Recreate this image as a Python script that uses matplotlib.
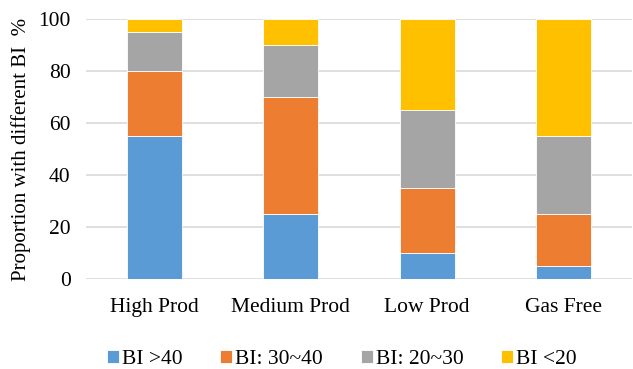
import matplotlib
matplotlib.use("Agg")
import matplotlib.pyplot as plt
import numpy as np

categories = ["High Prod", "Medium Prod", "Low Prod", "Gas Free"]
series_names = ["BI >40", "BI: 30~40", "BI: 20~30", "BI <20"]
bi_gt40 = [55, 25, 10, 5]
bi_30_40 = [25, 45, 25, 20]
bi_20_30 = [15, 20, 30, 30]
bi_lt20 = [5, 10, 35, 45]
yticks = [0, 20, 40, 60, 80, 100]
colors = ["#5B9BD5", "#ED7D31", "#A5A5A5", "#FFC000"]

plt.rcParams['font.family'] = ['Liberation Serif', 'DejaVu Serif']

fig = plt.figure(figsize=(6.33, 3.69), dpi=100)
ax = fig.add_axes([86/633, 1-279/369, 546/633, 260/369])

x = np.arange(len(categories))
bottom = np.zeros(len(categories))
for name, vals, c in zip(series_names, [bi_gt40, bi_30_40, bi_20_30, bi_lt20], colors):
    ax.bar(x, vals, 0.4, bottom=bottom, color=c, label=name, edgecolor="white", linewidth=0.6, zorder=3)
    bottom += np.array(vals)

ax.set_xlim(-0.5, len(categories) - 0.5)
ax.set_ylim(0, 100)
ax.set_yticks(yticks)
ax.set_yticklabels([str(t) for t in yticks], fontsize=15.5)
ax.set_xticks(x)
ax.set_xticklabels(categories, fontsize=15.5)
ax.tick_params(axis='y', length=0, pad=11)
ax.tick_params(axis='x', length=0, pad=14)
ax.grid(axis='y', color="#D9D9D9", linewidth=1.2, zorder=0)
for s in ax.spines.values():
    s.set_visible(False)
ax.set_ylabel("Proportion with different BI  %", fontsize=15, labelpad=5)

ax.legend(loc="center", bbox_to_anchor=(0.469, -0.31), ncol=4, frameon=False,
          fontsize=15.5, handlelength=0.55, handleheight=0.55, handletextpad=0.15, columnspacing=1.75)

fig.savefig("out.png", dpi=100)
